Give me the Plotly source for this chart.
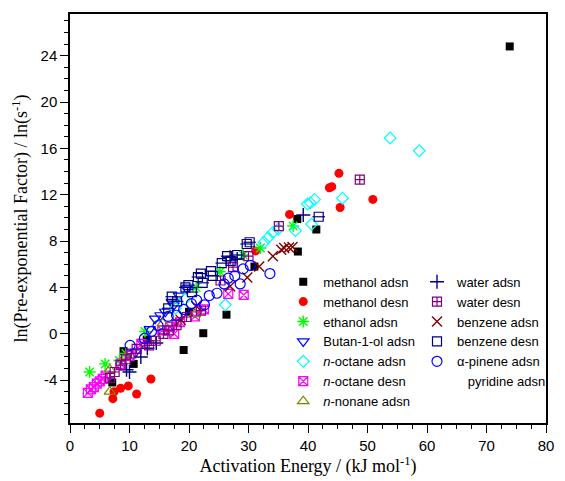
import plotly.graph_objects as go

# Activation energy (kJ/mol) and ln(pre-exponential factor) for each probe / mode
methanol_adsn_x = [7.1, 9.0, 10.7, 12.9, 19.1, 20.0, 22.4, 26.3, 31.0, 38.3, 38.2, 41.4, 73.9]
methanol_adsn_y = [-4.2, -1.5, -2.6, -0.5, -1.4, 1.9, 0.05, 1.65, 5.8, 7.1, 9.9, 9.0, 24.8]

methanol_desn_x = [5.0, 7.2, 7.4, 8.5, 9.8, 11.2, 13.6, 31.2, 36.9, 43.6, 44.0, 45.2, 45.4, 50.9]
methanol_desn_y = [-6.85, -5.6, -5.0, -4.7, -4.5, -5.2, -3.9, 7.15, 10.3, 12.6, 12.7, 13.85, 10.9, 11.6]

ethanol_adsn_x = [3.3, 5.9, 8.3, 9.4, 12.6, 21.2, 25.2, 29.1, 32.0, 37.5]
ethanol_adsn_y = [-3.3, -2.6, -2.3, -1.7, 0.2, 4.0, 5.35, 6.8, 7.4, 9.3]

butanol_adsn_x = [11.0, 12.2, 13.4, 14.3, 15.2, 16.0, 17.1, 17.4, 18.3, 19.6]
butanol_adsn_y = [-1.6, -0.7, 0.4, 1.3, 1.6, 1.9, 2.75, 2.45, 3.3, 3.9]

octane_adsn_x = [17.7, 19.3, 26.1, 32.6, 33.3, 34.1, 35.0, 37.9, 40.6, 39.9, 40.4, 41.1, 45.8, 53.8, 58.7]
octane_adsn_y = [2.2, 3.0, 2.5, 7.9, 8.3, 8.75, 9.05, 8.9, 9.45, 11.2, 11.3, 11.6, 11.7, 16.9, 15.8]

octane_desn_x = [3.0, 3.5, 4.0, 4.5, 5.0, 5.5, 6.0, 8.5, 10.0, 12.0, 15.5, 16.8, 17.5, 18.5, 21.0, 22.5, 26.6, 29.2]
octane_desn_y = [-5.1, -4.8, -4.6, -4.3, -4.1, -3.9, -3.6, -2.6, -1.9, -0.9, 0.3, 0.6, 0.0, 1.0, 1.5, 2.1, 3.45, 3.35]

nonane_adsn_x = [6.7, 6.7, 9.2, 15.6, 21.0]
nonane_adsn_y = [-5.0, -3.1, -2.0, 0.9, 1.7]

water_adsn_x = [9.5, 10.0, 11.9, 13.0, 14.5, 26.9, 28.1, 39.2]
water_adsn_y = [-3.1, -3.3, -2.0, -1.25, -0.8, 6.6, 6.45, 10.25]

water_desn_x = [6.7, 7.5, 8.5, 9.4, 10.3, 11.2, 13.3, 14.4, 15.7, 16.6, 17.9, 19.6, 22.0, 25.3, 27.4, 30.0, 35.1, 48.7]
water_desn_y = [-3.8, -3.3, -2.7, -2.2, -1.7, -1.3, -1.0, -0.6, 0.0, 0.3, 0.75, 1.45, 2.0, 4.6, 5.75, 6.7, 9.3, 13.3]

benzene_adsn_x = [18.6, 21.2, 26.9, 29.8, 31.8, 34.1, 35.5, 36.0, 36.8, 37.4]
benzene_adsn_y = [1.2, 2.4, 4.1, 4.85, 5.8, 6.7, 7.25, 7.4, 7.45, 7.5]

benzene_desn_x = [16.5, 17.1, 18.0, 19.4, 19.9, 20.5, 21.5, 22.0, 22.3, 23.7, 24.0, 25.5, 26.4, 27.0, 28.1, 29.7, 30.2, 41.8]
benzene_desn_y = [2.2, 3.2, 2.8, 4.0, 4.2, 3.6, 4.9, 5.2, 4.4, 5.4, 5.0, 6.1, 6.7, 6.3, 6.8, 7.75, 7.9, 10.1]

pinene_adsn_x = [10.1, 12.5, 13.7, 14.8, 16.5, 17.9, 19.1, 20.4, 21.3, 22.6, 23.4, 24.7, 25.9, 26.6, 27.7, 28.6, 29.1, 30.3, 33.6]
pinene_adsn_y = [-1.0, -0.4, 0.2, 0.7, 1.5, 1.6, 2.1, 2.6, 2.9, 2.5, 3.3, 3.5, 4.3, 4.8, 5.0, 4.3, 5.6, 5.9, 5.2]

x_ticks = [0, 10, 20, 30, 40, 50, 60, 70, 80]
y_ticks = [-4, 0, 4, 8, 12, 16, 20, 24]

fig = go.Figure()


def add(name, xs, ys, symbol, color, size, legend, lw=1.2, showlegend=True):
    fig.add_trace(go.Scatter(
        x=xs, y=ys, mode="markers", name=name, legend=legend,
        showlegend=showlegend,
        marker=dict(symbol=symbol, color=color, size=size,
                    line=dict(color=color, width=lw)),
    ))


add("methanol adsn", methanol_adsn_x, methanol_adsn_y, "square", "#000000", 8, "legend", lw=0)
add("methanol desn", methanol_desn_x, methanol_desn_y, "circle", "#ff0000", 9, "legend", lw=0)
add("ethanol adsn", ethanol_adsn_x, ethanol_adsn_y, "asterisk-open", "#00ff00", 10, "legend", lw=1.4)
add("Butan-1-ol adsn", butanol_adsn_x, butanol_adsn_y, "triangle-down-open", "#0000ff", 10, "legend")
add("<i>n</i>-octane adsn", octane_adsn_x, octane_adsn_y, "diamond-open", "#00ffff", 9, "legend")
add("<i>n</i>-octane desn", octane_desn_x, octane_desn_y, "square-x-open", "#ff00ff", 9, "legend")
add("<i>n</i>-nonane adsn", nonane_adsn_x, nonane_adsn_y, "triangle-up-open", "#808000", 10, "legend")

add("water adsn", water_adsn_x, water_adsn_y, "cross-thin-open", "#000080", 10, "legend2", lw=1.4)
add("water desn", water_desn_x, water_desn_y, "square-cross-open", "#800080", 9, "legend2")
add("benzene adsn", benzene_adsn_x, benzene_adsn_y, "x-thin-open", "#800000", 10, "legend2", lw=1.4)
add("benzene desn", benzene_desn_x, benzene_desn_y, "square-open", "#000080", 9, "legend2")
# horizontal bar across each benzene desn square
add("benzene desn", benzene_desn_x, benzene_desn_y, "line-ew-open", "#000080", 9, "legend2",
    showlegend=False)
add("\u03b1-pinene adsn", pinene_adsn_x, pinene_adsn_y, "circle-open", "#0000ff", 10, "legend2")
# pyridine: listed in the key without plotted points
fig.add_trace(go.Scatter(
    x=[None], y=[None], mode="markers",
    name="\u00a0\u00a0\u00a0pyridine adsn", legend="legend2",
    marker=dict(symbol="circle", color="rgba(0,0,0,0)", size=1),
))

axis_font = dict(family="Liberation Sans, Arial, sans-serif", size=15, color="#000000")
title_font = dict(family="Liberation Serif, Times New Roman, serif", size=18, color="#000000")
legend_font = dict(family="Liberation Sans, Arial, sans-serif", size=13, color="#000000")

fig.update_layout(
    width=565, height=481,
    margin=dict(l=70, r=11, t=14, b=56),
    paper_bgcolor="#ffffff", plot_bgcolor="#ffffff",
    xaxis=dict(
        range=[0, 80], tickvals=x_ticks, ticktext=[str(v) for v in x_ticks],
        ticks="outside", ticklen=8, tickwidth=1.3, tickcolor="#000000",
        minor=dict(dtick=2.5, ticks="outside", ticklen=4.5, tickwidth=1.2, tickcolor="#000000"),
        showline=True, linecolor="#000000", linewidth=1.5, mirror=True,
        showgrid=False, zeroline=False, tickfont=axis_font,
        title=dict(text="Activation Energy / (kJ mol<sup>-1</sup>)", font=title_font, standoff=4),
    ),
    yaxis=dict(
        range=[-7.7, 27.6], tickvals=y_ticks, ticktext=[str(v) for v in y_ticks],
        ticks="outside", ticklen=8, tickwidth=1.3, tickcolor="#000000",
        minor=dict(dtick=1, ticks="outside", ticklen=4.5, tickwidth=1.2, tickcolor="#000000"),
        showline=True, linecolor="#000000", linewidth=1.5, mirror=True,
        showgrid=False, zeroline=False, tickfont=axis_font,
        title=dict(text="ln(Pre-exponential Factor) / ln(s<sup>-1</sup>)", font=title_font, standoff=8),
    ),
    legend=dict(x=0.448, y=0.382, xanchor="left", yanchor="top",
                bgcolor="rgba(0,0,0,0)", font=legend_font, tracegroupgap=0,
                itemwidth=30),
    legend2=dict(x=0.729, y=0.382, xanchor="left", yanchor="top",
                 bgcolor="rgba(0,0,0,0)", font=legend_font, tracegroupgap=0,
                 itemwidth=30),
)

fig.write_html("out.html")
